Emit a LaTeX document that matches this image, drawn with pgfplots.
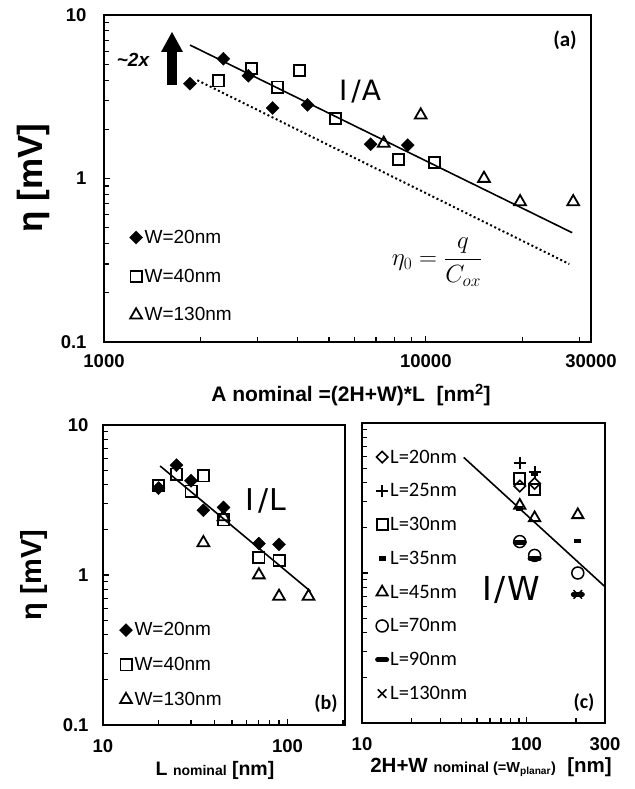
\documentclass[border=0pt]{standalone}
\usepackage{pgfplots}
\pgfplotsset{compat=1.18}
\usepackage{fontspec}
\setmainfont{Liberation Sans}
\newfontfamily\calibri{Carlito}
\newfontfamily\dejavu{DejaVu Sans}
\newcommand\fs[1]{\fontsize{#1}{#1}\selectfont}
\tikzset{
  dia/.style={only marks, mark=square*, mark size=4.6pt, mark options={rotate=45, fill=black}},
  sq/.style={only marks, mark=square, mark size=5.6pt, mark options={line width=1.8pt}},
  tri/.style={only marks, mark=triangle, mark size=6.8pt, mark options={line width=1.8pt}},
}
\begin{document}
\begin{tikzpicture}
\path[use as bounding box] (0pt,0pt) rectangle (634pt,789pt);
% ---------------- (a)
\begin{axis}[scale only axis, xmode=log, ymode=log,
  axis line style={line width=2.2pt},
  tick pos=left, tick align=inside,
  major tick length=6pt, minor tick length=5pt,
  tick style={line width=1.1pt, black},
  tick label style={font=\bfseries\fs{18.5}},
  ymin=0.1, ymax=10, ytick={0.1,1,10}, yticklabels={\textbf{0.1},\textbf{1},\textbf{10}},
  minor ytick={0.2,0.3,0.4,0.5,0.6,0.7,0.8,0.9,2,3,4,5,6,7,8,9},
  legend cell align=left,
  at={(104pt,447pt)}, anchor=south west,
  width=487pt, height=327pt,
  xmin=1000, xmax=32600,
  xtick={1000,10000,32600}, xticklabels={\textbf{1000},\textbf{10000},\textbf{30000}},
  minor xtick={2000,3000,4000,5000,6000,7000,8000,9000,20000,30000},
  xticklabel style={yshift=-9pt}, yticklabel style={xshift=-14pt},
  legend style={draw=none, fill=none, at={(axis description cs:0.046,0.355)}, anchor=north west,
    font=\fs{19}, row sep=20pt, column sep=0pt, nodes={inner sep=2pt}},
]
\addplot[dia] coordinates {(1850,3.8) (2350,5.4) (2810,4.25) (3340,2.7) (4290,2.82) (6740,1.62) (8790,1.6)};
\addplot[sq] coordinates {(2265,3.95) (2870,4.7) (3460,3.62) (4050,4.58) (5245,2.33) (8240,1.31) (10660,1.25)};
\addplot[tri] coordinates {(7400,1.64) (9640,2.44) (15160,1.0) (19630,0.72) (28700,0.72)};
\addplot[line width=1.6pt, no marks] coordinates {(1850,6.55) (28500,0.466)};
\addplot[line width=2pt, dash pattern=on 2pt off 2.6pt, no marks] coordinates {(1950,3.99) (27900,0.30)};
\legend{W=20nm,W=40nm,W=130nm}
\end{axis}
% ---------------- (b)
\begin{axis}[scale only axis, xmode=log, ymode=log,
  axis line style={line width=2.2pt},
  tick pos=left, tick align=inside,
  major tick length=6pt, minor tick length=5pt,
  tick style={line width=1.1pt, black},
  tick label style={font=\bfseries\fs{18.5}},
  ymin=0.1, ymax=10, ytick={0.1,1,10}, yticklabels={\textbf{0.1},\textbf{1},\textbf{10}},
  minor ytick={0.2,0.3,0.4,0.5,0.6,0.7,0.8,0.9,2,3,4,5,6,7,8,9},
  legend cell align=left,
  at={(103pt,64pt)}, anchor=south west,
  width=242pt, height=300pt,
  xmin=10, xmax=205,
  xtick={10,100}, xticklabels={\textbf{10},\textbf{100}},
  minor xtick={20,30,40,50,60,70,80,90,200},
  xticklabel style={yshift=-11pt}, yticklabel style={xshift=-11pt},
  legend style={draw=none, fill=none, at={(axis description cs:0.055,0.355)}, anchor=north west,
    font=\fs{19}, row sep=16pt, column sep=0pt, nodes={inner sep=2pt}},
]
\addplot[dia] coordinates {(20,3.8) (25,5.4) (30,4.25) (35,2.7) (45,2.82) (70,1.62) (90,1.6)};
\addplot[sq] coordinates {(20,3.95) (25,4.7) (30,3.62) (35,4.58) (45,2.33) (70,1.31) (90,1.25)};
\addplot[tri] coordinates {(35,1.64) (45,2.44) (70,1.0) (90,0.72) (130,0.72)};
\addplot[line width=1.6pt, no marks] coordinates {(20.4,5.33) (133,0.78)};
\legend{W=20nm,W=40nm,W=130nm}
\end{axis}
% ---------------- (c)
\begin{axis}[scale only axis, xmode=log, ymode=log,
  axis line style={line width=2.2pt},
  tick pos=left, tick align=inside,
  major tick length=6pt, minor tick length=5pt,
  tick style={line width=1.1pt, black},
  tick label style={font=\bfseries\fs{18.5}},
  ymin=0.1, ymax=10, ytick={0.1,1,10}, yticklabels={,,},
  minor ytick={0.2,0.3,0.4,0.5,0.6,0.7,0.8,0.9,2,3,4,5,6,7,8,9},
  legend cell align=left,
  at={(362pt,66pt)}, anchor=south west,
  width=243pt, height=300pt,
  xmin=10, xmax=300,
  xtick={10,100,300}, xticklabels={\textbf{10},\textbf{100},\textbf{300}},
  minor xtick={20,30,40,50,60,70,80,90,200},
  xticklabel style={yshift=-11pt},
  legend style={draw=none, fill=none, at={(axis description cs:0.045,0.925)}, anchor=north west,
    font=\calibri\fs{20.5}, row sep=15pt, column sep=0pt, nodes={inner sep=2pt}},
]
\addplot[only marks, mark=square, mark size=4pt, mark options={rotate=45, line width=1.6pt}] coordinates {(91,3.8) (112,3.95)};
\addplot[only marks, mark=+, mark size=6pt, mark options={line width=2pt}] coordinates {(91,5.4) (112,4.7)};
\addplot[only marks, mark=square, mark size=5.5pt, mark options={line width=1.8pt}] coordinates {(91,4.25) (112,3.62)};
\addplot[only marks, mark=-, mark size=3.5pt, mark options={line width=4.5pt}] coordinates {(91,2.7) (112,4.58) (205,1.64)};
\addplot[only marks, mark=triangle, mark size=6.5pt, mark options={line width=1.8pt}] coordinates {(91,2.82) (112,2.33) (205,2.44)};
\addplot[only marks, mark=o, mark size=6pt, mark options={line width=1.5pt}] coordinates {(91,1.62) (112,1.31) (205,1.0)};
\addplot[only marks, mark=-, mark size=4.5pt, mark options={line width=5pt, line cap=round}] coordinates {(91,1.6) (112,1.25) (205,0.72)};
\addplot[only marks, mark=x, mark size=6pt, mark options={line width=1.5pt}] coordinates {(205,0.72)};
\addplot[line width=1.6pt, no marks] coordinates {(41.5,5.9) (300,0.81)};
\legend{L=20nm,L=25nm,L=30nm,L=35nm,L=45nm,L=70nm,L=90nm,L=130nm}
\end{axis}
% ---------------- labels and annotations
\node[rotate=90, font=\bfseries\fs{35}] at (33pt,611pt) {η [mV]};
\node[rotate=90, font=\bfseries\fs{29}] at (34pt,214pt) {η [mV]};
\node[font=\bfseries\fs{21}] at (351pt,394pt) {A nominal =(2H+W)*L\ \ [nm\textsuperscript{2}]};
\node[font=\bfseries\fs{19.5}] at (215pt,19pt) {L {\fs{14}nominal} [nm]};
\node[font=\bfseries\fs{20.5}] at (491pt,22pt) {2H+W {\fs{14.5}nominal (=W\textsubscript{planar})}\ \ [nm]};
\node[font=\dejavu\fs{28}] at (360pt,697pt) {I\kern4pt/\kern1pt A};
\node[font=\dejavu\fs{30}] at (266pt,288pt) {I\kern4pt/\kern1pt L};
\node[font=\dejavu\fs{33}] at (511pt,199pt) {I\kern3pt/\kern1pt W};
\node at (437pt,527pt) {\fs{24}$\displaystyle\eta_0=\frac{q}{C_{ox}}$};
\node[font=\bfseries\itshape\fs{19}] at (133pt,729pt) {\textasciitilde 2x};
\fill (167pt,704pt) rectangle (177pt,738pt);
\fill (161pt,737pt) -- (183pt,737pt) -- (172pt,757pt) -- cycle;
\node[font=\calibri\bfseries\fs{21}] at (565pt,749pt) {(a)};
\node[font=\calibri\bfseries\fs{20}] at (326pt,85pt) {(b)};
\node[font=\calibri\bfseries\fs{20}] at (584pt,86pt) {(c)};
\end{tikzpicture}
\end{document}
